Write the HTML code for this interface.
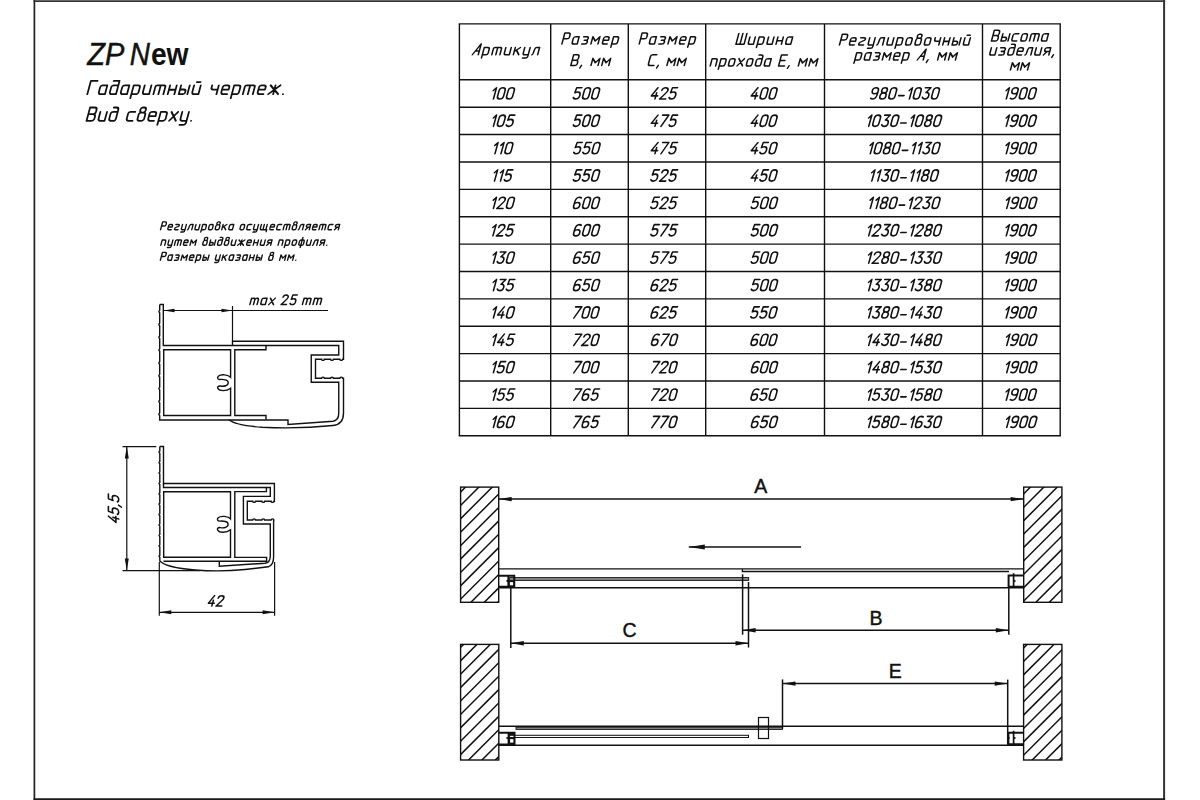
<!DOCTYPE html>
<html><head><meta charset="utf-8"><style>
html,body{margin:0;padding:0;background:#fff;width:1200px;height:800px;overflow:hidden}
svg{display:block}
text{font-family:"Liberation Sans",sans-serif;fill:#111}
</style></head><body>
<svg width="1200" height="800" viewBox="0 0 1200 800">
<line x1="34.4" y1="0" x2="34.4" y2="800" stroke="#222" stroke-width="1.7"/>
<line x1="33.6" y1="1.1" x2="1165.1" y2="1.1" stroke="#333" stroke-width="1.8"/>
<line x1="1164.1" y1="0" x2="1164.1" y2="800" stroke="#333" stroke-width="2.0"/>
<line x1="33.6" y1="799.2" x2="1165.1" y2="799.2" stroke="#1a1a1a" stroke-width="2.0"/>
<line x1="459.4" y1="23.9" x2="459.4" y2="435.8" stroke="#111" stroke-width="1.4"/>
<line x1="550.7" y1="23.9" x2="550.7" y2="435.8" stroke="#111" stroke-width="1.4"/>
<line x1="628.3" y1="23.9" x2="628.3" y2="435.8" stroke="#111" stroke-width="1.4"/>
<line x1="705.7" y1="23.9" x2="705.7" y2="435.8" stroke="#111" stroke-width="1.4"/>
<line x1="824.5" y1="23.9" x2="824.5" y2="435.8" stroke="#111" stroke-width="1.4"/>
<line x1="982.5" y1="23.9" x2="982.5" y2="435.8" stroke="#111" stroke-width="1.4"/>
<line x1="1060.2" y1="23.9" x2="1060.2" y2="435.8" stroke="#111" stroke-width="1.4"/>
<line x1="458.7" y1="23.9" x2="1060.9" y2="23.9" stroke="#111" stroke-width="1.4"/>
<line x1="458.7" y1="435.8" x2="1060.9" y2="435.8" stroke="#111" stroke-width="1.4"/>
<line x1="459.4" y1="79.8" x2="1060.2" y2="79.8" stroke="#111" stroke-width="1.4"/>
<line x1="459.4" y1="107.18" x2="1060.2" y2="107.18" stroke="#111" stroke-width="1.4"/>
<line x1="459.4" y1="134.57" x2="1060.2" y2="134.57" stroke="#111" stroke-width="1.4"/>
<line x1="459.4" y1="161.95" x2="1060.2" y2="161.95" stroke="#111" stroke-width="1.4"/>
<line x1="459.4" y1="189.34" x2="1060.2" y2="189.34" stroke="#111" stroke-width="1.4"/>
<line x1="459.4" y1="216.72" x2="1060.2" y2="216.72" stroke="#111" stroke-width="1.4"/>
<line x1="459.4" y1="244.11" x2="1060.2" y2="244.11" stroke="#111" stroke-width="1.4"/>
<line x1="459.4" y1="271.49" x2="1060.2" y2="271.49" stroke="#111" stroke-width="1.4"/>
<line x1="459.4" y1="298.88" x2="1060.2" y2="298.88" stroke="#111" stroke-width="1.4"/>
<line x1="459.4" y1="326.26" x2="1060.2" y2="326.26" stroke="#111" stroke-width="1.4"/>
<line x1="459.4" y1="353.65" x2="1060.2" y2="353.65" stroke="#111" stroke-width="1.4"/>
<line x1="459.4" y1="381.03" x2="1060.2" y2="381.03" stroke="#111" stroke-width="1.4"/>
<line x1="459.4" y1="408.42" x2="1060.2" y2="408.42" stroke="#111" stroke-width="1.4"/>
<defs><path id="g0" d="M0,-3.5V-9.2A3,2.75 0 0 1 6,-9.2V-3.5A3,2.75 0 0 1 0,-3.5Z"/><path id="g1" d="M0.2,-9.1L2.6,-11.95V-0.75"/><path id="g2" d="M0,-9.2A3,2.75 0 0 1 6,-9.2C6,-7.7 4.9,-6.7 0,-0.75H6.2"/><path id="g3" d="M0.4,-11.95H6L2.4,-7.2C4.6,-7.4 6,-6 6,-3.9C6,-1.9 4.6,-0.75 3,-0.75C1.4,-0.75 0.4,-1.4 0,-2.4"/><path id="g4" d="M4.4,-11.95L0,-3.8H6.3M4.5,-6.9V-0.75"/><path id="g5" d="M5.8,-11.95H0.7L0.2,-6.9C1,-7.4 1.9,-7.7 3,-7.7C4.8,-7.7 6,-6.3 6,-4.2C6,-1.9 4.7,-0.75 3,-0.75C1.6,-0.75 0.5,-1.3 0,-2.2"/><path id="g6" d="M5.5,-11.3C4.9,-11.8 4.1,-11.95 3.2,-11.95C1.2,-11.95 0,-10 0,-6.5V-3.6C0,-1.8 1.3,-0.75 3,-0.75C4.7,-0.75 6,-1.8 6,-3.7C6,-5.6 4.7,-6.8 3,-6.8C1.4,-6.8 0.4,-6 0,-5"/><path id="g7" d="M0,-11.95H6.2L1.4,-0.75"/><path id="g8" d="M3,-6.8C1.2,-6.8 0.25,-7.8 0.25,-9.3C0.25,-10.9 1.4,-11.95 3,-11.95C4.6,-11.95 5.75,-10.9 5.75,-9.3C5.75,-7.8 4.8,-6.8 3,-6.8C1.2,-6.8 0,-5.6 0,-3.8C0,-1.9 1.3,-0.75 3,-0.75C4.7,-0.75 6,-1.9 6,-3.8C6,-5.6 4.8,-6.8 3,-6.8Z"/><path id="g9" d="M0.5,-1.4C1.1,-0.95 1.9,-0.75 2.8,-0.75C4.8,-0.75 6,-2.7 6,-6.2V-9.1C6,-10.9 4.7,-11.95 3,-11.95C1.3,-11.95 0,-10.9 0,-9C0,-7.1 1.3,-5.9 3,-5.9C4.6,-5.9 5.6,-6.7 6,-7.7"/><path id="gdash" d="M0.4,-4.1H5.8"/><path id="gcomma" d="M1.2,-0.9L0,2.2"/></defs>
<defs><path id="c1072" d="M5,-6.7 H1.7 A1.7,1.63 0 0 0 0,-5.07 V-1.63 A1.7,1.63 0 0 0 1.7,0 H5 M5,-6.7 V0"/><path id="c1073" d="M5,0 V-10 H0.6 M5,-6.7 H1.7 A1.7,1.63 0 0 0 0,-5.07 V-1.63 A1.7,1.63 0 0 0 1.7,0 H5"/><path id="c1074" d="M2,-10 H2.9 A1.6,1.76 0 0 1 4.5,-8.24 V-7.91 A1.6,1.76 0 0 1 2.9,-6.22 H2 A1.6,1.76 0 0 1 0.4,-7.91 V-8.24 A1.6,1.76 0 0 1 2,-10 ZM1.7,-6.22 H3.3 A1.7,1.63 0 0 1 5,-4.59 V-1.63 A1.7,1.63 0 0 1 3.3,0 H1.7 A1.7,1.63 0 0 1 0,-1.63 V-4.59 A1.7,1.63 0 0 1 1.7,-6.22 Z"/><path id="c1075" d="M0.3,-6.7 H3.3 A1.7,1.63 0 0 1 5,-5.07 C5,-3.45 0,-3.64 0,-1.24 A1.3,1.24 0 0 0 1.3,0 H4.7"/><path id="c1076" d="M5,-6.7 H1.7 A1.7,1.63 0 0 0 0,-5.07 V-1.63 A1.7,1.63 0 0 0 1.7,0 H3.3 A1.7,1.63 0 0 0 5,-1.63 V-8.13 A1.7,1.87 0 0 0 3.3,-10 H1.2"/><path id="c1077" d="M0,-3.45 H5 V-5.07 A1.7,1.63 0 0 0 3.3,-6.7 H1.7 A1.7,1.63 0 0 0 0,-5.07 V-1.63 A1.7,1.63 0 0 0 1.7,0 H4.7"/><path id="c1078" d="M3.75,-6.7 V0 M0,-6.7 L3.75,-3.35 L7.5,-6.7 M0,0 L3.75,-3.35 L7.5,0"/><path id="c1079" d="M0.3,-6.7 H3.3 A1.7,1.63 0 0 1 5,-5.07 V-4.98 A1.7,1.63 0 0 1 3.3,-3.35 H1.8 M3.3,-3.35 A1.7,1.63 0 0 1 5,-1.72 V-1.63 A1.7,1.63 0 0 1 3.3,0 H0.3"/><path id="c1080" d="M0,-6.7 V-1.63 A1.7,1.63 0 0 0 1.7,0 H5 M5,-6.7 V0"/><path id="c1081" d="M0,-6.7 V-1.63 A1.7,1.63 0 0 0 1.7,0 H5 M5,-6.7 V0 M1.4,-9.12 H4.2"/><path id="c1082" d="M0,-6.7 V0 M4.8,-6.7 L0.2,-3.06 M1.8,-4.21 L5,0"/><path id="c1083" d="M5,0 V-6.7 H2.3 Q1.1,-6.7 0.9,-5.26 L0.45,-1.24 Q0.25,0 -0.4,0"/><path id="c1084" d="M0,0 V-6.7 L3.25,-2.68 L6.5,-6.7 V0"/><path id="c1085" d="M0,-6.7 V0 M5,-6.7 V0 M0,-3.35 H5"/><path id="c1086" d="M1.7,-6.7 H3.3 A1.7,1.63 0 0 1 5,-5.07 V-1.63 A1.7,1.63 0 0 1 3.3,0 H1.7 A1.7,1.63 0 0 1 0,-1.63 V-5.07 A1.7,1.63 0 0 1 1.7,-6.7 Z"/><path id="c1087" d="M0,0 V-6.7 H3.3 A1.7,1.63 0 0 1 5,-5.07 V0"/><path id="c1088" d="M0,3 V-6.7 H3.3 A1.7,1.63 0 0 1 5,-5.07 V-1.63 A1.7,1.63 0 0 1 3.3,0 H0"/><path id="c1089" d="M5,-6.7 H1.7 A1.7,1.63 0 0 0 0,-5.07 V-1.63 A1.7,1.63 0 0 0 1.7,0 H4.8"/><path id="c1090" d="M0,0 V-5.55 A1.2,1.15 0 0 1 1.2,-6.7 H6.3 A1.2,1.15 0 0 1 7.5,-5.55 V0 M3.75,-6.7 V0"/><path id="c1091" d="M0,-6.7 V-1.63 A1.7,1.63 0 0 0 1.7,0 H5 M5,-6.7 V1.3 A1.7,1.7 0 0 1 3.3,3 H0.5"/><path id="c1092" d="M3,-10 V3 M1.7,-6.7 H4.3 A1.7,1.63 0 0 1 6,-5.07 V-1.63 A1.7,1.63 0 0 1 4.3,0 H1.7 A1.7,1.63 0 0 1 0,-1.63 V-5.07 A1.7,1.63 0 0 1 1.7,-6.7 Z"/><path id="c1093" d="M0,-6.7 L5,0 M5,-6.7 L0,0"/><path id="c1095" d="M0,-6.7 V-5.07 A1.7,1.63 0 0 0 1.7,-3.45 H5 M5,-6.7 V0"/><path id="c1097" d="M0,-6.7 V-1.63 A1.7,1.63 0 0 0 1.7,0 H8.6 V2.5 M3.75,-6.7 V0 M7.5,-6.7 V0"/><path id="c1099" d="M0,-6.7 V0 H2.8 A1.7,1.63 0 0 0 4.5,-1.63 V-1.91 A1.7,1.63 0 0 0 2.8,-3.54 H0 M6.5,-6.7 V0"/><path id="c1103" d="M5,0 V-6.7 H1.7 A1.7,1.63 0 0 0 0,-5.07 V-4.79 A1.7,1.63 0 0 0 1.7,-3.16 H5 M2.6,-3.16 L0,0"/><path id="c1040" d="M0,0L5.5,-10V0M1.9,-3.5H5.5"/><path id="c1042" d="M0,0V-10H3.5A1.8,1.8 0 0 1 5.3,-8.2V-6.8A1.8,1.8 0 0 1 3.5,-5H0M3.5,-5H3.7A1.8,1.8 0 0 1 5.5,-3.2V-1.8A1.8,1.8 0 0 1 3.7,0H0"/><path id="c1043" d="M0,0V-10H5"/><path id="c1045" d="M5.5,-10H0V0H5.5M0,-5H4.5"/><path id="c1056" d="M0,0V-10H3.5A1.8,1.8 0 0 1 5.3,-8.2V-6.5A1.8,1.8 0 0 1 3.5,-4.7H0"/><path id="c1057" d="M5.5,-10H2A2,2 0 0 0 0,-8V-2A2,2 0 0 0 2,0H5.5"/><path id="c1064" d="M0,-10V0H7.5V-10M3.75,-10V0"/><path id="c109" d="M0,0 V-6.7 M0,-5.07 A1.7,1.63 0 0 1 1.7,-6.7 H2.05 A1.7,1.63 0 0 1 3.75,-5.07 V0 M3.75,-5.07 A1.7,1.63 0 0 1 5.45,-6.7 H5.8 A1.7,1.63 0 0 1 7.5,-5.07 V0"/><path id="c120" d="M0,-6.7 L5,0 M5,-6.7 L0,0"/><path id="c97" d="M5,-6.7 H1.7 A1.7,1.63 0 0 0 0,-5.07 V-1.63 A1.7,1.63 0 0 0 1.7,0 H5 M5,-6.7 V0"/><path id="c46" d="M0.3,0 h0.05"/><path id="c44" d="M0.9,-0.191 L0,2.2"/><path id="c48" d="M0,-2.46 V-7.54 A2.68,2.46 0 0 1 5.36,-7.54 V-2.46 A2.68,2.46 0 0 1 0,-2.46 Z"/><path id="c49" d="M0.179,-7.46 L2.32,-10 V0"/><path id="c50" d="M0,-7.54 A2.68,2.46 0 0 1 5.36,-7.54 C5.36,-6.21 4.38,-5.31 0,0 H5.54"/><path id="c51" d="M0.357,-10 H5.36 L2.14,-5.76 C4.11,-5.94 5.36,-4.69 5.36,-2.81 C5.36,-1.03 4.11,0 2.68,0 C1.25,0 0.357,-0.58 0,-1.47"/><path id="c52" d="M3.93,-10 L0,-2.72 H5.62 M4.02,-5.49 V0"/><path id="c53" d="M5.18,-10 H0.625 L0.179,-5.49 C0.893,-5.94 1.7,-6.21 2.68,-6.21 C4.29,-6.21 5.36,-4.96 5.36,-3.08 C5.36,-1.03 4.2,0 2.68,0 C1.43,0 0.446,-0.491 0,-1.29"/><path id="c54" d="M4.91,-9.42 C4.38,-9.87 3.66,-10 2.86,-10 C1.07,-10 0,-8.26 0,-5.13 V-2.54 C0,-0.938 1.16,0 2.68,0 C4.2,0 5.36,-0.938 5.36,-2.63 C5.36,-4.33 4.2,-5.4 2.68,-5.4 C1.25,-5.4 0.357,-4.69 0,-3.79"/><path id="c55" d="M0,-10 H5.54 L1.25,0"/><path id="c56" d="M2.68,-5.4 C1.07,-5.4 0.223,-6.29 0.223,-7.63 C0.223,-9.06 1.25,-10 2.68,-10 C4.11,-10 5.13,-9.06 5.13,-7.63 C5.13,-6.29 4.29,-5.4 2.68,-5.4 C1.07,-5.4 0,-4.33 0,-2.72 C0,-1.03 1.16,0 2.68,0 C4.2,0 5.36,-1.03 5.36,-2.72 C5.36,-4.33 4.29,-5.4 2.68,-5.4 Z"/><path id="c57" d="M0.446,-0.58 C0.982,-0.179 1.7,0 2.5,0 C4.29,0 5.36,-1.74 5.36,-4.87 V-7.46 C5.36,-9.06 4.2,-10 2.68,-10 C1.16,-10 0,-9.06 0,-7.37 C0,-5.67 1.16,-4.6 2.68,-4.6 C4.11,-4.6 5,-5.31 5.36,-6.21"/></defs>
<text x="87.29" y="65.00" font-size="31.5" font-style="italic" font-weight="normal" textLength="37.10" lengthAdjust="spacingAndGlyphs" stroke="#111" stroke-width="0.5">ZP</text>
<text x="129.78" y="65.00" font-size="31.5" font-style="italic" font-weight="normal" textLength="20.16" lengthAdjust="spacingAndGlyphs" stroke="#111" stroke-width="0.5">N</text>
<text x="150.92" y="65.00" font-size="31.5" font-style="normal" font-weight="bold" textLength="37.64" lengthAdjust="spacingAndGlyphs">ew</text>
<g transform="translate(87.30,94.20) scale(1.33) skewX(-15)" fill="none" stroke="#111" stroke-width="1.353" stroke-linecap="round" stroke-linejoin="round"><use href="#c1043" x="0.00"/><use href="#c1072" x="8.28"/><use href="#c1073" x="16.56"/><use href="#c1072" x="24.84"/><use href="#c1088" x="33.13"/><use href="#c1080" x="41.41"/><use href="#c1090" x="49.69"/><use href="#c1085" x="60.47"/><use href="#c1099" x="68.75"/><use href="#c1081" x="78.53"/><use href="#c1095" x="92.09"/><use href="#c1077" x="100.38"/><use href="#c1088" x="108.66"/><use href="#c1090" x="116.94"/><use href="#c1077" x="127.72"/><use href="#c1078" x="136.00"/><use href="#c46" x="146.78"/></g>
<g transform="translate(86.54,120.80) scale(1.33) skewX(-15)" fill="none" stroke="#111" stroke-width="1.353" stroke-linecap="round" stroke-linejoin="round"><use href="#c1042" x="0.00"/><use href="#c1080" x="8.58"/><use href="#c1076" x="16.65"/><use href="#c1089" x="29.80"/><use href="#c1074" x="37.88"/><use href="#c1077" x="45.96"/><use href="#c1088" x="54.03"/><use href="#c1093" x="62.11"/><use href="#c1091" x="70.19"/><use href="#c46" x="78.26"/></g>
<g transform="translate(160.54,229.70) scale(0.78) skewX(-15)" fill="none" stroke="#111" stroke-width="1.795" stroke-linecap="round" stroke-linejoin="round"><use href="#c1056" x="0.00"/><use href="#c1077" x="8.98"/><use href="#c1075" x="17.66"/><use href="#c1091" x="26.34"/><use href="#c1083" x="35.02"/><use href="#c1080" x="43.70"/><use href="#c1088" x="52.39"/><use href="#c1086" x="61.07"/><use href="#c1074" x="69.75"/><use href="#c1082" x="78.43"/><use href="#c1072" x="87.11"/><use href="#c1086" x="101.47"/><use href="#c1089" x="110.15"/><use href="#c1091" x="118.83"/><use href="#c1097" x="127.51"/><use href="#c1077" x="139.79"/><use href="#c1089" x="148.48"/><use href="#c1090" x="157.16"/><use href="#c1074" x="168.34"/><use href="#c1083" x="177.02"/><use href="#c1103" x="185.70"/><use href="#c1077" x="194.38"/><use href="#c1090" x="203.06"/><use href="#c1089" x="214.24"/><use href="#c1103" x="222.92"/></g>
<g transform="translate(160.81,245.20) scale(0.78) skewX(-15)" fill="none" stroke="#111" stroke-width="1.795" stroke-linecap="round" stroke-linejoin="round"><use href="#c1087" x="0.00"/><use href="#c1091" x="8.72"/><use href="#c1090" x="17.45"/><use href="#c1077" x="28.67"/><use href="#c1084" x="37.40"/><use href="#c1074" x="53.35"/><use href="#c1099" x="62.07"/><use href="#c1076" x="72.30"/><use href="#c1074" x="81.02"/><use href="#c1080" x="89.75"/><use href="#c1078" x="98.47"/><use href="#c1077" x="109.70"/><use href="#c1085" x="118.42"/><use href="#c1080" x="127.14"/><use href="#c1103" x="135.87"/><use href="#c1087" x="150.32"/><use href="#c1088" x="159.04"/><use href="#c1086" x="167.77"/><use href="#c1092" x="176.49"/><use href="#c1080" x="186.22"/><use href="#c1083" x="194.94"/><use href="#c1103" x="203.67"/><use href="#c46" x="212.39"/></g>
<g transform="translate(160.36,260.20) scale(0.78) skewX(-15)" fill="none" stroke="#111" stroke-width="1.795" stroke-linecap="round" stroke-linejoin="round"><use href="#c1056" x="0.00"/><use href="#c1072" x="9.03"/><use href="#c1079" x="17.75"/><use href="#c1084" x="26.48"/><use href="#c1077" x="36.70"/><use href="#c1088" x="45.43"/><use href="#c1099" x="54.15"/><use href="#c1091" x="70.10"/><use href="#c1082" x="78.83"/><use href="#c1072" x="87.56"/><use href="#c1079" x="96.28"/><use href="#c1072" x="105.01"/><use href="#c1085" x="113.73"/><use href="#c1099" x="122.46"/><use href="#c1074" x="138.41"/><use href="#c1084" x="152.86"/><use href="#c1084" x="163.09"/><use href="#c46" x="173.31"/></g>
<g transform="translate(249.90,304.60) scale(0.96) skewX(-15)" fill="none" stroke="#111" stroke-width="1.562" stroke-linecap="round" stroke-linejoin="round"><use href="#c109" x="0.00"/><use href="#c97" x="11.05"/><use href="#c120" x="19.61"/><use href="#c50" x="32.52"/><use href="#c53" x="41.43"/><use href="#c109" x="54.70"/><use href="#c109" x="65.75"/></g>
<g transform="translate(472.35,54.75) scale(1.08) skewX(-15)" fill="none" stroke="#111" stroke-width="1.435" stroke-linecap="round" stroke-linejoin="round"><use href="#c1040" x="0.00"/><use href="#c1088" x="9.25"/><use href="#c1090" x="17.99"/><use href="#c1080" x="29.24"/><use href="#c1082" x="37.98"/><use href="#c1091" x="46.73"/><use href="#c1083" x="55.47"/></g>
<g transform="translate(561.92,43.90) scale(1.08) skewX(-15)" fill="none" stroke="#111" stroke-width="1.435" stroke-linecap="round" stroke-linejoin="round"><use href="#c1056" x="0.00"/><use href="#c1072" x="9.15"/><use href="#c1079" x="18.01"/><use href="#c1084" x="26.86"/><use href="#c1077" x="37.21"/><use href="#c1088" x="46.07"/></g>
<g transform="translate(570.79,65.60) scale(1.08) skewX(-15)" fill="none" stroke="#111" stroke-width="1.435" stroke-linecap="round" stroke-linejoin="round"><use href="#c1042" x="0.00"/><use href="#c44" x="8.94"/><use href="#c1084" x="18.71"/><use href="#c1084" x="28.64"/></g>
<g transform="translate(639.24,43.90) scale(1.08) skewX(-15)" fill="none" stroke="#111" stroke-width="1.435" stroke-linecap="round" stroke-linejoin="round"><use href="#c1056" x="0.00"/><use href="#c1072" x="9.08"/><use href="#c1079" x="17.85"/><use href="#c1084" x="26.63"/><use href="#c1077" x="36.90"/><use href="#c1088" x="45.68"/></g>
<g transform="translate(647.98,65.60) scale(1.08) skewX(-15)" fill="none" stroke="#111" stroke-width="1.435" stroke-linecap="round" stroke-linejoin="round"><use href="#c1057" x="0.00"/><use href="#c44" x="8.55"/><use href="#c1084" x="17.55"/><use href="#c1084" x="27.10"/></g>
<g transform="translate(735.95,44.30) scale(1.08) skewX(-15)" fill="none" stroke="#111" stroke-width="1.435" stroke-linecap="round" stroke-linejoin="round"><use href="#c1064" x="0.00"/><use href="#c1080" x="11.15"/><use href="#c1088" x="19.79"/><use href="#c1080" x="28.44"/><use href="#c1085" x="37.09"/><use href="#c1072" x="45.73"/></g>
<g transform="translate(710.20,65.90) scale(1.08) skewX(-15)" fill="none" stroke="#111" stroke-width="1.435" stroke-linecap="round" stroke-linejoin="round"><use href="#c1087" x="0.00"/><use href="#c1088" x="8.29"/><use href="#c1086" x="16.58"/><use href="#c1093" x="24.87"/><use href="#c1086" x="33.16"/><use href="#c1076" x="41.45"/><use href="#c1072" x="49.74"/><use href="#c1045" x="63.32"/><use href="#c44" x="72.11"/><use href="#c1084" x="81.59"/><use href="#c1084" x="91.38"/></g>
<g transform="translate(839.45,45.00) scale(1.08) skewX(-15)" fill="none" stroke="#111" stroke-width="1.435" stroke-linecap="round" stroke-linejoin="round"><use href="#c1056" x="0.00"/><use href="#c1077" x="8.96"/><use href="#c1075" x="17.63"/><use href="#c1091" x="26.29"/><use href="#c1083" x="34.96"/><use href="#c1080" x="43.62"/><use href="#c1088" x="52.28"/><use href="#c1086" x="60.95"/><use href="#c1074" x="69.61"/><use href="#c1086" x="78.28"/><use href="#c1095" x="86.94"/><use href="#c1085" x="95.61"/><use href="#c1099" x="104.27"/><use href="#c1081" x="114.43"/></g>
<g transform="translate(854.80,60.00) scale(1.08) skewX(-15)" fill="none" stroke="#111" stroke-width="1.435" stroke-linecap="round" stroke-linejoin="round"><use href="#c1088" x="0.00"/><use href="#c1072" x="8.48"/><use href="#c1079" x="16.96"/><use href="#c1084" x="25.44"/><use href="#c1077" x="35.42"/><use href="#c1088" x="43.89"/><use href="#c1040" x="57.85"/><use href="#c44" x="66.83"/><use href="#c1084" x="76.69"/><use href="#c1084" x="86.67"/></g>
<g transform="translate(991.45,41.00) scale(1.08) skewX(-15)" fill="none" stroke="#111" stroke-width="1.435" stroke-linecap="round" stroke-linejoin="round"><use href="#c1042" x="0.00"/><use href="#c1099" x="8.80"/><use href="#c1089" x="18.60"/><use href="#c1086" x="26.90"/><use href="#c1090" x="35.20"/><use href="#c1072" x="46.00"/></g>
<g transform="translate(989.45,55.00) scale(1.08) skewX(-15)" fill="none" stroke="#111" stroke-width="1.435" stroke-linecap="round" stroke-linejoin="round"><use href="#c1080" x="0.00"/><use href="#c1079" x="8.33"/><use href="#c1076" x="16.66"/><use href="#c1077" x="24.99"/><use href="#c1083" x="33.31"/><use href="#c1080" x="41.64"/><use href="#c1103" x="49.97"/><use href="#c44" x="58.30"/></g>
<g transform="translate(1010.45,70.00) scale(1.08) skewX(-15)" fill="none" stroke="#111" stroke-width="1.435" stroke-linecap="round" stroke-linejoin="round"><use href="#c1084" x="0.00"/><use href="#c1084" x="9.33"/></g>
<g transform="translate(490.60,99.70) scale(1.0) skewX(-15.5)" fill="none" stroke="#111" stroke-width="1.60" stroke-linecap="round" stroke-linejoin="round"><use href="#g1" x="0.00"/><use href="#g0" x="6.00"/><use href="#g0" x="15.10"/></g>
<g transform="translate(572.70,99.70) scale(1.0) skewX(-15.5)" fill="none" stroke="#111" stroke-width="1.60" stroke-linecap="round" stroke-linejoin="round"><use href="#g5" x="0.00"/><use href="#g0" x="9.10"/><use href="#g0" x="18.20"/></g>
<g transform="translate(650.25,99.70) scale(1.0) skewX(-15.5)" fill="none" stroke="#111" stroke-width="1.60" stroke-linecap="round" stroke-linejoin="round"><use href="#g4" x="0.00"/><use href="#g2" x="9.10"/><use href="#g5" x="18.20"/></g>
<g transform="translate(750.19,99.70) scale(1.0) skewX(-15.5)" fill="none" stroke="#111" stroke-width="1.60" stroke-linecap="round" stroke-linejoin="round"><use href="#g4" x="0.00"/><use href="#g0" x="9.10"/><use href="#g0" x="18.20"/></g>
<g transform="translate(869.82,99.70) scale(1.0) skewX(-15.5)" fill="none" stroke="#111" stroke-width="1.60" stroke-linecap="round" stroke-linejoin="round"><use href="#g9" x="0.00"/><use href="#g8" x="9.10"/><use href="#g0" x="18.20"/><use href="#gdash" x="27.30"/><use href="#g1" x="36.75"/><use href="#g0" x="42.75"/><use href="#g3" x="51.85"/><use href="#g0" x="60.95"/></g>
<g transform="translate(1003.48,99.70) scale(1.0) skewX(-15.5)" fill="none" stroke="#111" stroke-width="1.60" stroke-linecap="round" stroke-linejoin="round"><use href="#g1" x="0.00"/><use href="#g9" x="6.00"/><use href="#g0" x="15.10"/><use href="#g0" x="24.20"/></g>
<g transform="translate(490.60,127.08) scale(1.0) skewX(-15.5)" fill="none" stroke="#111" stroke-width="1.60" stroke-linecap="round" stroke-linejoin="round"><use href="#g1" x="0.00"/><use href="#g0" x="6.00"/><use href="#g5" x="15.10"/></g>
<g transform="translate(572.70,127.08) scale(1.0) skewX(-15.5)" fill="none" stroke="#111" stroke-width="1.60" stroke-linecap="round" stroke-linejoin="round"><use href="#g5" x="0.00"/><use href="#g0" x="9.10"/><use href="#g0" x="18.20"/></g>
<g transform="translate(650.25,127.08) scale(1.0) skewX(-15.5)" fill="none" stroke="#111" stroke-width="1.60" stroke-linecap="round" stroke-linejoin="round"><use href="#g4" x="0.00"/><use href="#g7" x="9.10"/><use href="#g5" x="18.20"/></g>
<g transform="translate(750.19,127.08) scale(1.0) skewX(-15.5)" fill="none" stroke="#111" stroke-width="1.60" stroke-linecap="round" stroke-linejoin="round"><use href="#g4" x="0.00"/><use href="#g0" x="9.10"/><use href="#g0" x="18.20"/></g>
<g transform="translate(865.92,127.08) scale(1.0) skewX(-15.5)" fill="none" stroke="#111" stroke-width="1.60" stroke-linecap="round" stroke-linejoin="round"><use href="#g1" x="0.00"/><use href="#g0" x="6.00"/><use href="#g3" x="15.10"/><use href="#g0" x="24.20"/><use href="#gdash" x="33.30"/><use href="#g1" x="42.75"/><use href="#g0" x="48.75"/><use href="#g8" x="57.85"/><use href="#g0" x="66.95"/></g>
<g transform="translate(1003.48,127.08) scale(1.0) skewX(-15.5)" fill="none" stroke="#111" stroke-width="1.60" stroke-linecap="round" stroke-linejoin="round"><use href="#g1" x="0.00"/><use href="#g9" x="6.00"/><use href="#g0" x="15.10"/><use href="#g0" x="24.20"/></g>
<g transform="translate(492.15,154.47) scale(1.0) skewX(-15.5)" fill="none" stroke="#111" stroke-width="1.60" stroke-linecap="round" stroke-linejoin="round"><use href="#g1" x="0.00"/><use href="#g1" x="6.00"/><use href="#g0" x="12.00"/></g>
<g transform="translate(573.15,154.47) scale(1.0) skewX(-15.5)" fill="none" stroke="#111" stroke-width="1.60" stroke-linecap="round" stroke-linejoin="round"><use href="#g5" x="0.00"/><use href="#g5" x="9.10"/><use href="#g0" x="18.20"/></g>
<g transform="translate(650.25,154.47) scale(1.0) skewX(-15.5)" fill="none" stroke="#111" stroke-width="1.60" stroke-linecap="round" stroke-linejoin="round"><use href="#g4" x="0.00"/><use href="#g7" x="9.10"/><use href="#g5" x="18.20"/></g>
<g transform="translate(750.19,154.47) scale(1.0) skewX(-15.5)" fill="none" stroke="#111" stroke-width="1.60" stroke-linecap="round" stroke-linejoin="round"><use href="#g4" x="0.00"/><use href="#g5" x="9.10"/><use href="#g0" x="18.20"/></g>
<g transform="translate(867.48,154.47) scale(1.0) skewX(-15.5)" fill="none" stroke="#111" stroke-width="1.60" stroke-linecap="round" stroke-linejoin="round"><use href="#g1" x="0.00"/><use href="#g0" x="6.00"/><use href="#g8" x="15.10"/><use href="#g0" x="24.20"/><use href="#gdash" x="33.30"/><use href="#g1" x="42.75"/><use href="#g1" x="48.75"/><use href="#g3" x="54.75"/><use href="#g0" x="63.85"/></g>
<g transform="translate(1003.48,154.47) scale(1.0) skewX(-15.5)" fill="none" stroke="#111" stroke-width="1.60" stroke-linecap="round" stroke-linejoin="round"><use href="#g1" x="0.00"/><use href="#g9" x="6.00"/><use href="#g0" x="15.10"/><use href="#g0" x="24.20"/></g>
<g transform="translate(491.70,181.85) scale(1.0) skewX(-15.5)" fill="none" stroke="#111" stroke-width="1.60" stroke-linecap="round" stroke-linejoin="round"><use href="#g1" x="0.00"/><use href="#g1" x="6.00"/><use href="#g5" x="12.00"/></g>
<g transform="translate(572.70,181.85) scale(1.0) skewX(-15.5)" fill="none" stroke="#111" stroke-width="1.60" stroke-linecap="round" stroke-linejoin="round"><use href="#g5" x="0.00"/><use href="#g5" x="9.10"/><use href="#g0" x="18.20"/></g>
<g transform="translate(650.25,181.85) scale(1.0) skewX(-15.5)" fill="none" stroke="#111" stroke-width="1.60" stroke-linecap="round" stroke-linejoin="round"><use href="#g5" x="0.00"/><use href="#g2" x="9.10"/><use href="#g5" x="18.20"/></g>
<g transform="translate(750.19,181.85) scale(1.0) skewX(-15.5)" fill="none" stroke="#111" stroke-width="1.60" stroke-linecap="round" stroke-linejoin="round"><use href="#g4" x="0.00"/><use href="#g5" x="9.10"/><use href="#g0" x="18.20"/></g>
<g transform="translate(869.02,181.85) scale(1.0) skewX(-15.5)" fill="none" stroke="#111" stroke-width="1.60" stroke-linecap="round" stroke-linejoin="round"><use href="#g1" x="0.00"/><use href="#g1" x="6.00"/><use href="#g3" x="12.00"/><use href="#g0" x="21.10"/><use href="#gdash" x="30.20"/><use href="#g1" x="39.65"/><use href="#g1" x="45.65"/><use href="#g8" x="51.65"/><use href="#g0" x="60.75"/></g>
<g transform="translate(1003.48,181.85) scale(1.0) skewX(-15.5)" fill="none" stroke="#111" stroke-width="1.60" stroke-linecap="round" stroke-linejoin="round"><use href="#g1" x="0.00"/><use href="#g9" x="6.00"/><use href="#g0" x="15.10"/><use href="#g0" x="24.20"/></g>
<g transform="translate(490.60,209.24) scale(1.0) skewX(-15.5)" fill="none" stroke="#111" stroke-width="1.60" stroke-linecap="round" stroke-linejoin="round"><use href="#g1" x="0.00"/><use href="#g2" x="6.00"/><use href="#g0" x="15.10"/></g>
<g transform="translate(572.70,209.24) scale(1.0) skewX(-15.5)" fill="none" stroke="#111" stroke-width="1.60" stroke-linecap="round" stroke-linejoin="round"><use href="#g6" x="0.00"/><use href="#g0" x="9.10"/><use href="#g0" x="18.20"/></g>
<g transform="translate(650.25,209.24) scale(1.0) skewX(-15.5)" fill="none" stroke="#111" stroke-width="1.60" stroke-linecap="round" stroke-linejoin="round"><use href="#g5" x="0.00"/><use href="#g2" x="9.10"/><use href="#g5" x="18.20"/></g>
<g transform="translate(750.64,209.24) scale(1.0) skewX(-15.5)" fill="none" stroke="#111" stroke-width="1.60" stroke-linecap="round" stroke-linejoin="round"><use href="#g5" x="0.00"/><use href="#g0" x="9.10"/><use href="#g0" x="18.20"/></g>
<g transform="translate(867.48,209.24) scale(1.0) skewX(-15.5)" fill="none" stroke="#111" stroke-width="1.60" stroke-linecap="round" stroke-linejoin="round"><use href="#g1" x="0.00"/><use href="#g1" x="6.00"/><use href="#g8" x="12.00"/><use href="#g0" x="21.10"/><use href="#gdash" x="30.20"/><use href="#g1" x="39.65"/><use href="#g2" x="45.65"/><use href="#g3" x="54.75"/><use href="#g0" x="63.85"/></g>
<g transform="translate(1003.93,209.24) scale(1.0) skewX(-15.5)" fill="none" stroke="#111" stroke-width="1.60" stroke-linecap="round" stroke-linejoin="round"><use href="#g1" x="0.00"/><use href="#g9" x="6.00"/><use href="#g0" x="15.10"/><use href="#g0" x="24.20"/></g>
<g transform="translate(490.15,236.62) scale(1.0) skewX(-15.5)" fill="none" stroke="#111" stroke-width="1.60" stroke-linecap="round" stroke-linejoin="round"><use href="#g1" x="0.00"/><use href="#g2" x="6.00"/><use href="#g5" x="15.10"/></g>
<g transform="translate(572.70,236.62) scale(1.0) skewX(-15.5)" fill="none" stroke="#111" stroke-width="1.60" stroke-linecap="round" stroke-linejoin="round"><use href="#g6" x="0.00"/><use href="#g0" x="9.10"/><use href="#g0" x="18.20"/></g>
<g transform="translate(650.25,236.62) scale(1.0) skewX(-15.5)" fill="none" stroke="#111" stroke-width="1.60" stroke-linecap="round" stroke-linejoin="round"><use href="#g5" x="0.00"/><use href="#g7" x="9.10"/><use href="#g5" x="18.20"/></g>
<g transform="translate(750.64,236.62) scale(1.0) skewX(-15.5)" fill="none" stroke="#111" stroke-width="1.60" stroke-linecap="round" stroke-linejoin="round"><use href="#g5" x="0.00"/><use href="#g0" x="9.10"/><use href="#g0" x="18.20"/></g>
<g transform="translate(865.92,236.62) scale(1.0) skewX(-15.5)" fill="none" stroke="#111" stroke-width="1.60" stroke-linecap="round" stroke-linejoin="round"><use href="#g1" x="0.00"/><use href="#g2" x="6.00"/><use href="#g3" x="15.10"/><use href="#g0" x="24.20"/><use href="#gdash" x="33.30"/><use href="#g1" x="42.75"/><use href="#g2" x="48.75"/><use href="#g8" x="57.85"/><use href="#g0" x="66.95"/></g>
<g transform="translate(1003.48,236.62) scale(1.0) skewX(-15.5)" fill="none" stroke="#111" stroke-width="1.60" stroke-linecap="round" stroke-linejoin="round"><use href="#g1" x="0.00"/><use href="#g9" x="6.00"/><use href="#g0" x="15.10"/><use href="#g0" x="24.20"/></g>
<g transform="translate(490.60,264.01) scale(1.0) skewX(-15.5)" fill="none" stroke="#111" stroke-width="1.60" stroke-linecap="round" stroke-linejoin="round"><use href="#g1" x="0.00"/><use href="#g3" x="6.00"/><use href="#g0" x="15.10"/></g>
<g transform="translate(572.70,264.01) scale(1.0) skewX(-15.5)" fill="none" stroke="#111" stroke-width="1.60" stroke-linecap="round" stroke-linejoin="round"><use href="#g6" x="0.00"/><use href="#g5" x="9.10"/><use href="#g0" x="18.20"/></g>
<g transform="translate(650.25,264.01) scale(1.0) skewX(-15.5)" fill="none" stroke="#111" stroke-width="1.60" stroke-linecap="round" stroke-linejoin="round"><use href="#g5" x="0.00"/><use href="#g7" x="9.10"/><use href="#g5" x="18.20"/></g>
<g transform="translate(750.64,264.01) scale(1.0) skewX(-15.5)" fill="none" stroke="#111" stroke-width="1.60" stroke-linecap="round" stroke-linejoin="round"><use href="#g5" x="0.00"/><use href="#g0" x="9.10"/><use href="#g0" x="18.20"/></g>
<g transform="translate(865.92,264.01) scale(1.0) skewX(-15.5)" fill="none" stroke="#111" stroke-width="1.60" stroke-linecap="round" stroke-linejoin="round"><use href="#g1" x="0.00"/><use href="#g2" x="6.00"/><use href="#g8" x="15.10"/><use href="#g0" x="24.20"/><use href="#gdash" x="33.30"/><use href="#g1" x="42.75"/><use href="#g3" x="48.75"/><use href="#g3" x="57.85"/><use href="#g0" x="66.95"/></g>
<g transform="translate(1003.48,264.01) scale(1.0) skewX(-15.5)" fill="none" stroke="#111" stroke-width="1.60" stroke-linecap="round" stroke-linejoin="round"><use href="#g1" x="0.00"/><use href="#g9" x="6.00"/><use href="#g0" x="15.10"/><use href="#g0" x="24.20"/></g>
<g transform="translate(490.60,291.39) scale(1.0) skewX(-15.5)" fill="none" stroke="#111" stroke-width="1.60" stroke-linecap="round" stroke-linejoin="round"><use href="#g1" x="0.00"/><use href="#g3" x="6.00"/><use href="#g5" x="15.10"/></g>
<g transform="translate(572.70,291.39) scale(1.0) skewX(-15.5)" fill="none" stroke="#111" stroke-width="1.60" stroke-linecap="round" stroke-linejoin="round"><use href="#g6" x="0.00"/><use href="#g5" x="9.10"/><use href="#g0" x="18.20"/></g>
<g transform="translate(650.25,291.39) scale(1.0) skewX(-15.5)" fill="none" stroke="#111" stroke-width="1.60" stroke-linecap="round" stroke-linejoin="round"><use href="#g6" x="0.00"/><use href="#g2" x="9.10"/><use href="#g5" x="18.20"/></g>
<g transform="translate(750.64,291.39) scale(1.0) skewX(-15.5)" fill="none" stroke="#111" stroke-width="1.60" stroke-linecap="round" stroke-linejoin="round"><use href="#g5" x="0.00"/><use href="#g0" x="9.10"/><use href="#g0" x="18.20"/></g>
<g transform="translate(865.92,291.39) scale(1.0) skewX(-15.5)" fill="none" stroke="#111" stroke-width="1.60" stroke-linecap="round" stroke-linejoin="round"><use href="#g1" x="0.00"/><use href="#g3" x="6.00"/><use href="#g3" x="15.10"/><use href="#g0" x="24.20"/><use href="#gdash" x="33.30"/><use href="#g1" x="42.75"/><use href="#g3" x="48.75"/><use href="#g8" x="57.85"/><use href="#g0" x="66.95"/></g>
<g transform="translate(1003.48,291.39) scale(1.0) skewX(-15.5)" fill="none" stroke="#111" stroke-width="1.60" stroke-linecap="round" stroke-linejoin="round"><use href="#g1" x="0.00"/><use href="#g9" x="6.00"/><use href="#g0" x="15.10"/><use href="#g0" x="24.20"/></g>
<g transform="translate(490.60,318.78) scale(1.0) skewX(-15.5)" fill="none" stroke="#111" stroke-width="1.60" stroke-linecap="round" stroke-linejoin="round"><use href="#g1" x="0.00"/><use href="#g4" x="6.00"/><use href="#g0" x="15.10"/></g>
<g transform="translate(572.25,318.78) scale(1.0) skewX(-15.5)" fill="none" stroke="#111" stroke-width="1.60" stroke-linecap="round" stroke-linejoin="round"><use href="#g7" x="0.00"/><use href="#g0" x="9.10"/><use href="#g0" x="18.20"/></g>
<g transform="translate(650.25,318.78) scale(1.0) skewX(-15.5)" fill="none" stroke="#111" stroke-width="1.60" stroke-linecap="round" stroke-linejoin="round"><use href="#g6" x="0.00"/><use href="#g2" x="9.10"/><use href="#g5" x="18.20"/></g>
<g transform="translate(750.19,318.78) scale(1.0) skewX(-15.5)" fill="none" stroke="#111" stroke-width="1.60" stroke-linecap="round" stroke-linejoin="round"><use href="#g5" x="0.00"/><use href="#g5" x="9.10"/><use href="#g0" x="18.20"/></g>
<g transform="translate(865.92,318.78) scale(1.0) skewX(-15.5)" fill="none" stroke="#111" stroke-width="1.60" stroke-linecap="round" stroke-linejoin="round"><use href="#g1" x="0.00"/><use href="#g3" x="6.00"/><use href="#g8" x="15.10"/><use href="#g0" x="24.20"/><use href="#gdash" x="33.30"/><use href="#g1" x="42.75"/><use href="#g4" x="48.75"/><use href="#g3" x="57.85"/><use href="#g0" x="66.95"/></g>
<g transform="translate(1003.48,318.78) scale(1.0) skewX(-15.5)" fill="none" stroke="#111" stroke-width="1.60" stroke-linecap="round" stroke-linejoin="round"><use href="#g1" x="0.00"/><use href="#g9" x="6.00"/><use href="#g0" x="15.10"/><use href="#g0" x="24.20"/></g>
<g transform="translate(490.60,346.16) scale(1.0) skewX(-15.5)" fill="none" stroke="#111" stroke-width="1.60" stroke-linecap="round" stroke-linejoin="round"><use href="#g1" x="0.00"/><use href="#g4" x="6.00"/><use href="#g5" x="15.10"/></g>
<g transform="translate(572.25,346.16) scale(1.0) skewX(-15.5)" fill="none" stroke="#111" stroke-width="1.60" stroke-linecap="round" stroke-linejoin="round"><use href="#g7" x="0.00"/><use href="#g2" x="9.10"/><use href="#g0" x="18.20"/></g>
<g transform="translate(650.70,346.16) scale(1.0) skewX(-15.5)" fill="none" stroke="#111" stroke-width="1.60" stroke-linecap="round" stroke-linejoin="round"><use href="#g6" x="0.00"/><use href="#g7" x="9.10"/><use href="#g0" x="18.20"/></g>
<g transform="translate(750.19,346.16) scale(1.0) skewX(-15.5)" fill="none" stroke="#111" stroke-width="1.60" stroke-linecap="round" stroke-linejoin="round"><use href="#g6" x="0.00"/><use href="#g0" x="9.10"/><use href="#g0" x="18.20"/></g>
<g transform="translate(865.92,346.16) scale(1.0) skewX(-15.5)" fill="none" stroke="#111" stroke-width="1.60" stroke-linecap="round" stroke-linejoin="round"><use href="#g1" x="0.00"/><use href="#g4" x="6.00"/><use href="#g3" x="15.10"/><use href="#g0" x="24.20"/><use href="#gdash" x="33.30"/><use href="#g1" x="42.75"/><use href="#g4" x="48.75"/><use href="#g8" x="57.85"/><use href="#g0" x="66.95"/></g>
<g transform="translate(1003.93,346.16) scale(1.0) skewX(-15.5)" fill="none" stroke="#111" stroke-width="1.60" stroke-linecap="round" stroke-linejoin="round"><use href="#g1" x="0.00"/><use href="#g9" x="6.00"/><use href="#g0" x="15.10"/><use href="#g0" x="24.20"/></g>
<g transform="translate(490.60,373.55) scale(1.0) skewX(-15.5)" fill="none" stroke="#111" stroke-width="1.60" stroke-linecap="round" stroke-linejoin="round"><use href="#g1" x="0.00"/><use href="#g5" x="6.00"/><use href="#g0" x="15.10"/></g>
<g transform="translate(572.25,373.55) scale(1.0) skewX(-15.5)" fill="none" stroke="#111" stroke-width="1.60" stroke-linecap="round" stroke-linejoin="round"><use href="#g7" x="0.00"/><use href="#g0" x="9.10"/><use href="#g0" x="18.20"/></g>
<g transform="translate(650.25,373.55) scale(1.0) skewX(-15.5)" fill="none" stroke="#111" stroke-width="1.60" stroke-linecap="round" stroke-linejoin="round"><use href="#g7" x="0.00"/><use href="#g2" x="9.10"/><use href="#g0" x="18.20"/></g>
<g transform="translate(750.64,373.55) scale(1.0) skewX(-15.5)" fill="none" stroke="#111" stroke-width="1.60" stroke-linecap="round" stroke-linejoin="round"><use href="#g6" x="0.00"/><use href="#g0" x="9.10"/><use href="#g0" x="18.20"/></g>
<g transform="translate(865.92,373.55) scale(1.0) skewX(-15.5)" fill="none" stroke="#111" stroke-width="1.60" stroke-linecap="round" stroke-linejoin="round"><use href="#g1" x="0.00"/><use href="#g4" x="6.00"/><use href="#g8" x="15.10"/><use href="#g0" x="24.20"/><use href="#gdash" x="33.30"/><use href="#g1" x="42.75"/><use href="#g5" x="48.75"/><use href="#g3" x="57.85"/><use href="#g0" x="66.95"/></g>
<g transform="translate(1003.93,373.55) scale(1.0) skewX(-15.5)" fill="none" stroke="#111" stroke-width="1.60" stroke-linecap="round" stroke-linejoin="round"><use href="#g1" x="0.00"/><use href="#g9" x="6.00"/><use href="#g0" x="15.10"/><use href="#g0" x="24.20"/></g>
<g transform="translate(490.60,400.93) scale(1.0) skewX(-15.5)" fill="none" stroke="#111" stroke-width="1.60" stroke-linecap="round" stroke-linejoin="round"><use href="#g1" x="0.00"/><use href="#g5" x="6.00"/><use href="#g5" x="15.10"/></g>
<g transform="translate(572.25,400.93) scale(1.0) skewX(-15.5)" fill="none" stroke="#111" stroke-width="1.60" stroke-linecap="round" stroke-linejoin="round"><use href="#g7" x="0.00"/><use href="#g6" x="9.10"/><use href="#g5" x="18.20"/></g>
<g transform="translate(650.25,400.93) scale(1.0) skewX(-15.5)" fill="none" stroke="#111" stroke-width="1.60" stroke-linecap="round" stroke-linejoin="round"><use href="#g7" x="0.00"/><use href="#g2" x="9.10"/><use href="#g0" x="18.20"/></g>
<g transform="translate(750.19,400.93) scale(1.0) skewX(-15.5)" fill="none" stroke="#111" stroke-width="1.60" stroke-linecap="round" stroke-linejoin="round"><use href="#g6" x="0.00"/><use href="#g5" x="9.10"/><use href="#g0" x="18.20"/></g>
<g transform="translate(865.92,400.93) scale(1.0) skewX(-15.5)" fill="none" stroke="#111" stroke-width="1.60" stroke-linecap="round" stroke-linejoin="round"><use href="#g1" x="0.00"/><use href="#g5" x="6.00"/><use href="#g3" x="15.10"/><use href="#g0" x="24.20"/><use href="#gdash" x="33.30"/><use href="#g1" x="42.75"/><use href="#g5" x="48.75"/><use href="#g8" x="57.85"/><use href="#g0" x="66.95"/></g>
<g transform="translate(1003.48,400.93) scale(1.0) skewX(-15.5)" fill="none" stroke="#111" stroke-width="1.60" stroke-linecap="round" stroke-linejoin="round"><use href="#g1" x="0.00"/><use href="#g9" x="6.00"/><use href="#g0" x="15.10"/><use href="#g0" x="24.20"/></g>
<g transform="translate(490.60,428.32) scale(1.0) skewX(-15.5)" fill="none" stroke="#111" stroke-width="1.60" stroke-linecap="round" stroke-linejoin="round"><use href="#g1" x="0.00"/><use href="#g6" x="6.00"/><use href="#g0" x="15.10"/></g>
<g transform="translate(572.25,428.32) scale(1.0) skewX(-15.5)" fill="none" stroke="#111" stroke-width="1.60" stroke-linecap="round" stroke-linejoin="round"><use href="#g7" x="0.00"/><use href="#g6" x="9.10"/><use href="#g5" x="18.20"/></g>
<g transform="translate(650.25,428.32) scale(1.0) skewX(-15.5)" fill="none" stroke="#111" stroke-width="1.60" stroke-linecap="round" stroke-linejoin="round"><use href="#g7" x="0.00"/><use href="#g7" x="9.10"/><use href="#g0" x="18.20"/></g>
<g transform="translate(750.64,428.32) scale(1.0) skewX(-15.5)" fill="none" stroke="#111" stroke-width="1.60" stroke-linecap="round" stroke-linejoin="round"><use href="#g6" x="0.00"/><use href="#g5" x="9.10"/><use href="#g0" x="18.20"/></g>
<g transform="translate(865.92,428.32) scale(1.0) skewX(-15.5)" fill="none" stroke="#111" stroke-width="1.60" stroke-linecap="round" stroke-linejoin="round"><use href="#g1" x="0.00"/><use href="#g5" x="6.00"/><use href="#g8" x="15.10"/><use href="#g0" x="24.20"/><use href="#gdash" x="33.30"/><use href="#g1" x="42.75"/><use href="#g6" x="48.75"/><use href="#g3" x="57.85"/><use href="#g0" x="66.95"/></g>
<g transform="translate(1003.93,428.32) scale(1.0) skewX(-15.5)" fill="none" stroke="#111" stroke-width="1.60" stroke-linecap="round" stroke-linejoin="round"><use href="#g1" x="0.00"/><use href="#g9" x="6.00"/><use href="#g0" x="15.10"/><use href="#g0" x="24.20"/></g>
<clipPath id="w1"><rect x="460.6" y="487.1" width="38.099999999999966" height="115.19999999999993"/></clipPath>
<path d="M331.9000000000001,607.3L457.1,482.1M345.30000000000007,607.3L470.5,482.1M358.70000000000005,607.3L483.9,482.1M372.1,607.3L497.29999999999995,482.1M385.5,607.3L510.69999999999993,482.1M398.9,607.3L524.0999999999999,482.1M412.29999999999995,607.3L537.4999999999999,482.1M425.70000000000005,607.3L550.9,482.1M439.10000000000014,607.3L564.3000000000001,482.1M452.5000000000002,607.3L577.7000000000002,482.1M465.9000000000003,607.3L591.1000000000003,482.1M479.3000000000004,607.3L604.5000000000003,482.1M492.7000000000005,607.3L617.9000000000004,482.1" stroke="#111" stroke-width="1.5" clip-path="url(#w1)"/>
<rect x="460.6" y="487.1" width="38.099999999999966" height="115.19999999999993" fill="none" stroke="#111" stroke-width="1.4"/>
<clipPath id="w2"><rect x="1023.7" y="487.1" width="38.200000000000045" height="115.19999999999993"/></clipPath>
<path d="M896.8499999999999,607.3L1022.0499999999998,482.1M910.25,607.3L1035.4499999999998,482.1M923.6500000000001,607.3L1048.85,482.1M937.0500000000002,607.3L1062.25,482.1M950.4500000000003,607.3L1075.65,482.1M963.8500000000004,607.3L1089.0500000000002,482.1M977.2500000000005,607.3L1102.4500000000003,482.1M990.6500000000005,607.3L1115.8500000000004,482.1M1004.0500000000006,607.3L1129.2500000000005,482.1M1017.4500000000007,607.3L1142.6500000000005,482.1M1030.8500000000008,607.3L1156.0500000000006,482.1M1044.250000000001,607.3L1169.4500000000007,482.1" stroke="#111" stroke-width="1.5" clip-path="url(#w2)"/>
<rect x="1023.7" y="487.1" width="38.200000000000045" height="115.19999999999993" fill="none" stroke="#111" stroke-width="1.4"/>
<line x1="498.7" y1="499.1" x2="1023.7" y2="499.1" stroke="#111" stroke-width="1.5"/>
<polygon points="498.7,499.1 511.7,496.90000000000003 511.7,501.3" fill="#111"/>
<polygon points="1023.7,499.1 1010.7,496.90000000000003 1010.7,501.3" fill="#111"/>
<text x="760.8" y="493.4" font-size="19.5" text-anchor="middle" stroke="#111" stroke-width="0.4">A</text>
<line x1="688.8" y1="546.9" x2="801.1" y2="546.9" stroke="#111" stroke-width="1.5"/>
<polygon points="688.8,546.9 704.8,544.4 704.8,549.4" fill="#111"/>
<line x1="498.7" y1="568.9" x2="1023.8" y2="568.9" stroke="#111" stroke-width="1.4"/>
<line x1="498.7" y1="587.7" x2="1023.8" y2="587.7" stroke="#111" stroke-width="1.6"/>
<path d="M742.4,568.9 V571.5 H1009" stroke="#111" stroke-width="1.3" fill="none"/>
<rect x="509.6" y="577.6" width="239.1" height="2.8" fill="#888" stroke="#111" stroke-width="0.9"/>
<path d="M498.75,575.75 H514.25 V586.75 H498.75" stroke="#111" stroke-width="2.0" fill="none"/>
<path d="M508.3,575.75 V586.75" stroke="#111" stroke-width="1.8" fill="none"/>
<circle cx="507.4" cy="580.9" r="1.1" fill="#111"/>
<rect x="508.3" y="580.5" width="6" height="6.3" fill="#111"/>
<rect x="509.9" y="582.1" width="3.2" height="3.2" fill="#fff"/>
<path d="M1023.7,575.5 H1008.6 V586.7 H1023.7" stroke="#111" stroke-width="2.0" fill="none"/>
<path d="M1013.6,573.2 V586.7" stroke="#111" stroke-width="1.7" fill="none"/>
<circle cx="1014.7" cy="581" r="1.0" fill="#111"/>
<line x1="510.8" y1="586.8" x2="510.8" y2="648" stroke="#111" stroke-width="1.5"/>
<line x1="748.5" y1="582" x2="748.5" y2="647.5" stroke="#111" stroke-width="1.5"/>
<line x1="742.6" y1="574.3" x2="742.6" y2="634.7" stroke="#111" stroke-width="1.5"/>
<line x1="510.8" y1="643.2" x2="748.5" y2="643.2" stroke="#111" stroke-width="1.5"/>
<polygon points="510.8,643.2 523.8,641.0 523.8,645.4000000000001" fill="#111"/>
<polygon points="748.5,643.2 735.5,641.0 735.5,645.4000000000001" fill="#111"/>
<text x="629.5" y="637.3" font-size="19.5" text-anchor="middle" stroke="#111" stroke-width="0.4">C</text>
<line x1="1008.8" y1="587.7" x2="1008.8" y2="634.7" stroke="#111" stroke-width="1.5"/>
<line x1="742.6" y1="630.3" x2="1008.8" y2="630.3" stroke="#111" stroke-width="1.5"/>
<polygon points="742.6,630.3 755.6,628.0999999999999 755.6,632.5" fill="#111"/>
<polygon points="1008.8,630.3 995.8,628.0999999999999 995.8,632.5" fill="#111"/>
<text x="876" y="624.7" font-size="19.5" text-anchor="middle" stroke="#111" stroke-width="0.4">B</text>
<clipPath id="w3"><rect x="460.6" y="644.4" width="38.19999999999999" height="115.60000000000002"/></clipPath>
<path d="M329.5499999999997,765L455.14999999999975,639.4M342.9499999999998,765L468.54999999999984,639.4M356.3499999999999,765L481.94999999999993,639.4M369.75,765L495.35,639.4M383.1500000000001,765L508.7500000000001,639.4M396.5500000000002,765L522.1500000000002,639.4M409.9500000000003,765L535.5500000000003,639.4M423.35000000000036,765L548.9500000000004,639.4M436.75000000000045,765L562.3500000000005,639.4M450.15000000000055,765L575.7500000000006,639.4M463.55000000000064,765L589.1500000000007,639.4M476.9500000000007,765L602.5500000000008,639.4M490.3500000000008,765L615.9500000000008,639.4" stroke="#111" stroke-width="1.5" clip-path="url(#w3)"/>
<rect x="460.6" y="644.4" width="38.19999999999999" height="115.60000000000002" fill="none" stroke="#111" stroke-width="1.4"/>
<clipPath id="w4"><rect x="1023.6" y="644.4" width="38.30000000000007" height="115.60000000000002"/></clipPath>
<path d="M893.1999999999998,765L1018.7999999999998,639.4M906.5999999999999,765L1032.1999999999998,639.4M920.0,765L1045.6,639.4M933.4000000000001,765L1059.0,639.4M946.8000000000002,765L1072.4,639.4M960.2000000000003,765L1085.8000000000002,639.4M973.6000000000004,765L1099.2000000000003,639.4M987.0000000000005,765L1112.6000000000004,639.4M1000.4000000000005,765L1126.0000000000005,639.4M1013.8000000000006,765L1139.4000000000005,639.4M1027.2000000000007,765L1152.8000000000006,639.4M1040.6000000000008,765L1166.2000000000007,639.4M1054.000000000001,765L1179.6000000000008,639.4" stroke="#111" stroke-width="1.5" clip-path="url(#w4)"/>
<rect x="1023.6" y="644.4" width="38.30000000000007" height="115.60000000000002" fill="none" stroke="#111" stroke-width="1.4"/>
<line x1="498.8" y1="726.3" x2="1023.6" y2="726.3" stroke="#111" stroke-width="1.4"/>
<line x1="498.8" y1="745.2" x2="1023.6" y2="745.2" stroke="#111" stroke-width="1.6"/>
<rect x="516" y="727.2" width="266.5" height="2.2" fill="#888" stroke="#111" stroke-width="0.9"/>
<rect x="509.6" y="735.3" width="238.9" height="2.2" fill="#fff" stroke="#111" stroke-width="1"/>
<rect x="758.5" y="717.5" width="10" height="21" fill="none" stroke="#111" stroke-width="1.2"/>
<path d="M498.8,732.75 H514.5 V744.5 H498.8" stroke="#111" stroke-width="2.0" fill="none"/>
<path d="M508.5,732.75 V744.5" stroke="#111" stroke-width="1.8" fill="none"/>
<circle cx="507.3" cy="738" r="1.1" fill="#111"/>
<rect x="508.5" y="732.75" width="6" height="2.3" fill="#111"/>
<rect x="508.5" y="737.7" width="6" height="6.8" fill="#111"/>
<rect x="510.1" y="739.1" width="3.3" height="3.5" fill="#fff"/>
<path d="M1023.6,732.65 H1008.4 V744.3 H1023.6" stroke="#111" stroke-width="2.0" fill="none"/>
<path d="M1013.6,730.8 V744.3" stroke="#111" stroke-width="1.7" fill="none"/>
<circle cx="1014.7" cy="738" r="1.0" fill="#111"/>
<circle cx="1009.2" cy="738" r="0.8" fill="#111"/>
<line x1="782.5" y1="679.4" x2="782.5" y2="728.8" stroke="#111" stroke-width="1.5"/>
<line x1="1007.7" y1="679.6" x2="1007.7" y2="744.7" stroke="#111" stroke-width="1.5"/>
<line x1="782.5" y1="683.6" x2="1007.7" y2="683.6" stroke="#111" stroke-width="1.5"/>
<polygon points="782.5,683.6 795.5,681.4 795.5,685.8000000000001" fill="#111"/>
<polygon points="1007.7,683.6 994.7,681.4 994.7,685.8000000000001" fill="#111"/>
<text x="895.3" y="677.9" font-size="19.5" text-anchor="middle" stroke="#111" stroke-width="0.4">E</text>
<path d="M159.7,304.5 V310.3 Q158.1,311.6 159.7,312.8 V317.3 V323.1 Q158.1,324.4 159.7,325.7 V330.2 V335.9 Q158.1,337.2 159.7,338.5 V343.0 V348.8 Q158.1,350.1 159.7,351.3 V355.8 V361.6 Q158.1,362.9 159.7,364.2 V368.7 V374.4 Q158.1,375.7 159.7,377.0 V381.5 V387.3 Q158.1,388.6 159.7,389.8 V394.3 V400.1 Q158.1,401.4 159.7,402.7 V407.2 V412.9 Q158.1,414.2 159.7,415.5 V420.0 H288 V424.4 L333,421.3 Q338.75,420.5 338.75,413 V382.25 H311.25 V355 H338.75 V345.5 H163.3 V304.5 H159.7" stroke="#111" stroke-width="1.4" fill="none"/>
<path d="M232.5,345.5 V341.3 H343.5 V359.25 H342.65 A1.4,1.15 0 0 1 339.85,359.25 H333.40 A1.4,1.15 0 0 1 330.60,359.25 H324.40 A1.4,1.15 0 0 1 321.60,359.25 H315.5 V378.25 H321.60 A1.4,1.15 0 0 1 324.40,378.25 H330.60 A1.4,1.15 0 0 1 333.40,378.25 H339.85 A1.4,1.15 0 0 1 342.65,378.25 H343.5 V413 Q343.5,424.5 333,425.5 Q300,429 262,427.3 Q236,425.5 229,419.8" stroke="#111" stroke-width="1.4" fill="none"/>
<path d="M266,345.5 V349.8 H234.8 V415.5 H266 V419.8" stroke="#111" stroke-width="1.4" fill="none"/>
<path d="M163.7,349.8 H230.6 V377.20 C228.5,374.70 221.0,373.70 218.29999999999998,376.20 C216.79999999999998,377.70 217.79999999999998,379.70 220.0,379.50 C223.5,379.20 228.2,379.70 228.2,382.70 C228.2,385.70 224.0,386.70 220.5,386.00 C218.0,385.70 216.9,387.20 218.0,388.70 C219.5,391.00 226.0,391.70 230.6,388.20 V415.5 H163.7 Z" stroke="#111" stroke-width="1.4" fill="none"/>
<line x1="163.5" y1="310.5" x2="328" y2="310.5" stroke="#111" stroke-width="1.2"/>
<polygon points="163.5,310.5 174.5,308.7 174.5,312.3" fill="#111"/>
<polygon points="232.5,310.5 221.5,308.7 221.5,312.3" fill="#111"/>
<line x1="232.5" y1="306" x2="232.5" y2="341.3" stroke="#111" stroke-width="1.2"/>
<path d="M159.8,446.5 V451.2 Q158.20000000000002,452.2 159.8,453.3 V456.9 V461.6 Q158.20000000000002,462.6 159.8,463.7 V467.3 V472.0 Q158.20000000000002,473.0 159.8,474.1 V477.7 V482.4 Q158.20000000000002,483.5 159.8,484.5 V488.1 V492.8 Q158.20000000000002,493.9 159.8,494.9 V498.5 V503.2 Q158.20000000000002,504.3 159.8,505.3 V509.0 V513.6 Q158.20000000000002,514.7 159.8,515.7 V519.4 V524.0 Q158.20000000000002,525.1 159.8,526.1 V529.8 V534.5 Q158.20000000000002,535.5 159.8,536.5 V540.2 V544.9 Q158.20000000000002,545.9 159.8,546.9 V550.6 V555.3 Q158.20000000000002,556.3 159.8,557.4 V561.0 Q166,567.5 195,570 Q220,572 245,569.5 L268.3,566.8 Q273.6,565 273.6,557 V520 H273.90 A1.4,1.15 0 0 0 271.10,520 H264.70 A1.4,1.15 0 0 0 261.90,520 H255.50 A1.4,1.15 0 0 0 252.70,520 H247.3 V501.2 H252.70 A1.4,1.15 0 0 0 255.50,501.2 H261.90 A1.4,1.15 0 0 0 264.70,501.2 H271.10 A1.4,1.15 0 0 0 273.90,501.2 H274.4 V483.5 H163.5 V446.5 H159.8" stroke="#111" stroke-width="1.4" fill="none"/>
<path d="M163.5,483.5 V487.5 H270.3 V496.4 H243.4 V524 H270.3 V556 Q270.3,562.6 265,563.2 L219.3,566.25 V561.3" stroke="#111" stroke-width="1.4" fill="none"/>
<path d="M163.5,561.3 H266.6 V557.4 H234.8 V491.6 H266.4 V487.5" stroke="#111" stroke-width="1.4" fill="none"/>
<path d="M163.7,491.8 H230.5 V518.80 C228.4,516.30 220.9,515.30 218.2,517.80 C216.7,519.30 217.7,521.30 219.9,521.10 C223.4,520.80 228.1,521.30 228.1,524.30 C228.1,527.30 223.9,528.30 220.4,527.60 C217.9,527.30 216.8,528.80 217.9,530.30 C219.4,532.60 225.9,533.30 230.5,529.80 V557.2 H163.7 Z" stroke="#111" stroke-width="1.4" fill="none"/>
<line x1="122.5" y1="446.6" x2="156.3" y2="446.6" stroke="#111" stroke-width="1.2"/>
<line x1="122.5" y1="570.6" x2="200" y2="570.6" stroke="#111" stroke-width="1.2"/>
<line x1="126.8" y1="446.6" x2="126.8" y2="570.6" stroke="#111" stroke-width="1.2"/>
<polygon points="126.8,446.6 124.8,458.6 128.8,458.6" fill="#111"/>
<polygon points="126.8,570.6 124.8,558.6 128.8,558.6" fill="#111"/>
<g transform="translate(0.00,0.00) translate(119.4,523.3) rotate(-90) scale(0.92) skewX(-15.5)" fill="none" stroke="#111" stroke-width="1.74" stroke-linecap="round" stroke-linejoin="round"><use href="#g4" x="0.00"/><use href="#g5" x="9.10"/><use href="#gcomma" x="18.20"/><use href="#g5" x="22.70"/></g>
<line x1="159.3" y1="562" x2="159.3" y2="615.8" stroke="#111" stroke-width="1.2"/>
<line x1="274.6" y1="562" x2="274.6" y2="615.8" stroke="#111" stroke-width="1.2"/>
<line x1="159.3" y1="612.3" x2="274.6" y2="612.3" stroke="#111" stroke-width="1.2"/>
<polygon points="159.3,612.3 171.3,610.3 171.3,614.3" fill="#111"/>
<polygon points="274.6,612.3 262.6,610.3 262.6,614.3" fill="#111"/>
<g transform="translate(207.50,606.70) scale(0.92) skewX(-15.5)" fill="none" stroke="#111" stroke-width="1.74" stroke-linecap="round" stroke-linejoin="round"><use href="#g4" x="0.00"/><use href="#g2" x="9.10"/></g>
</svg>
</body></html>
